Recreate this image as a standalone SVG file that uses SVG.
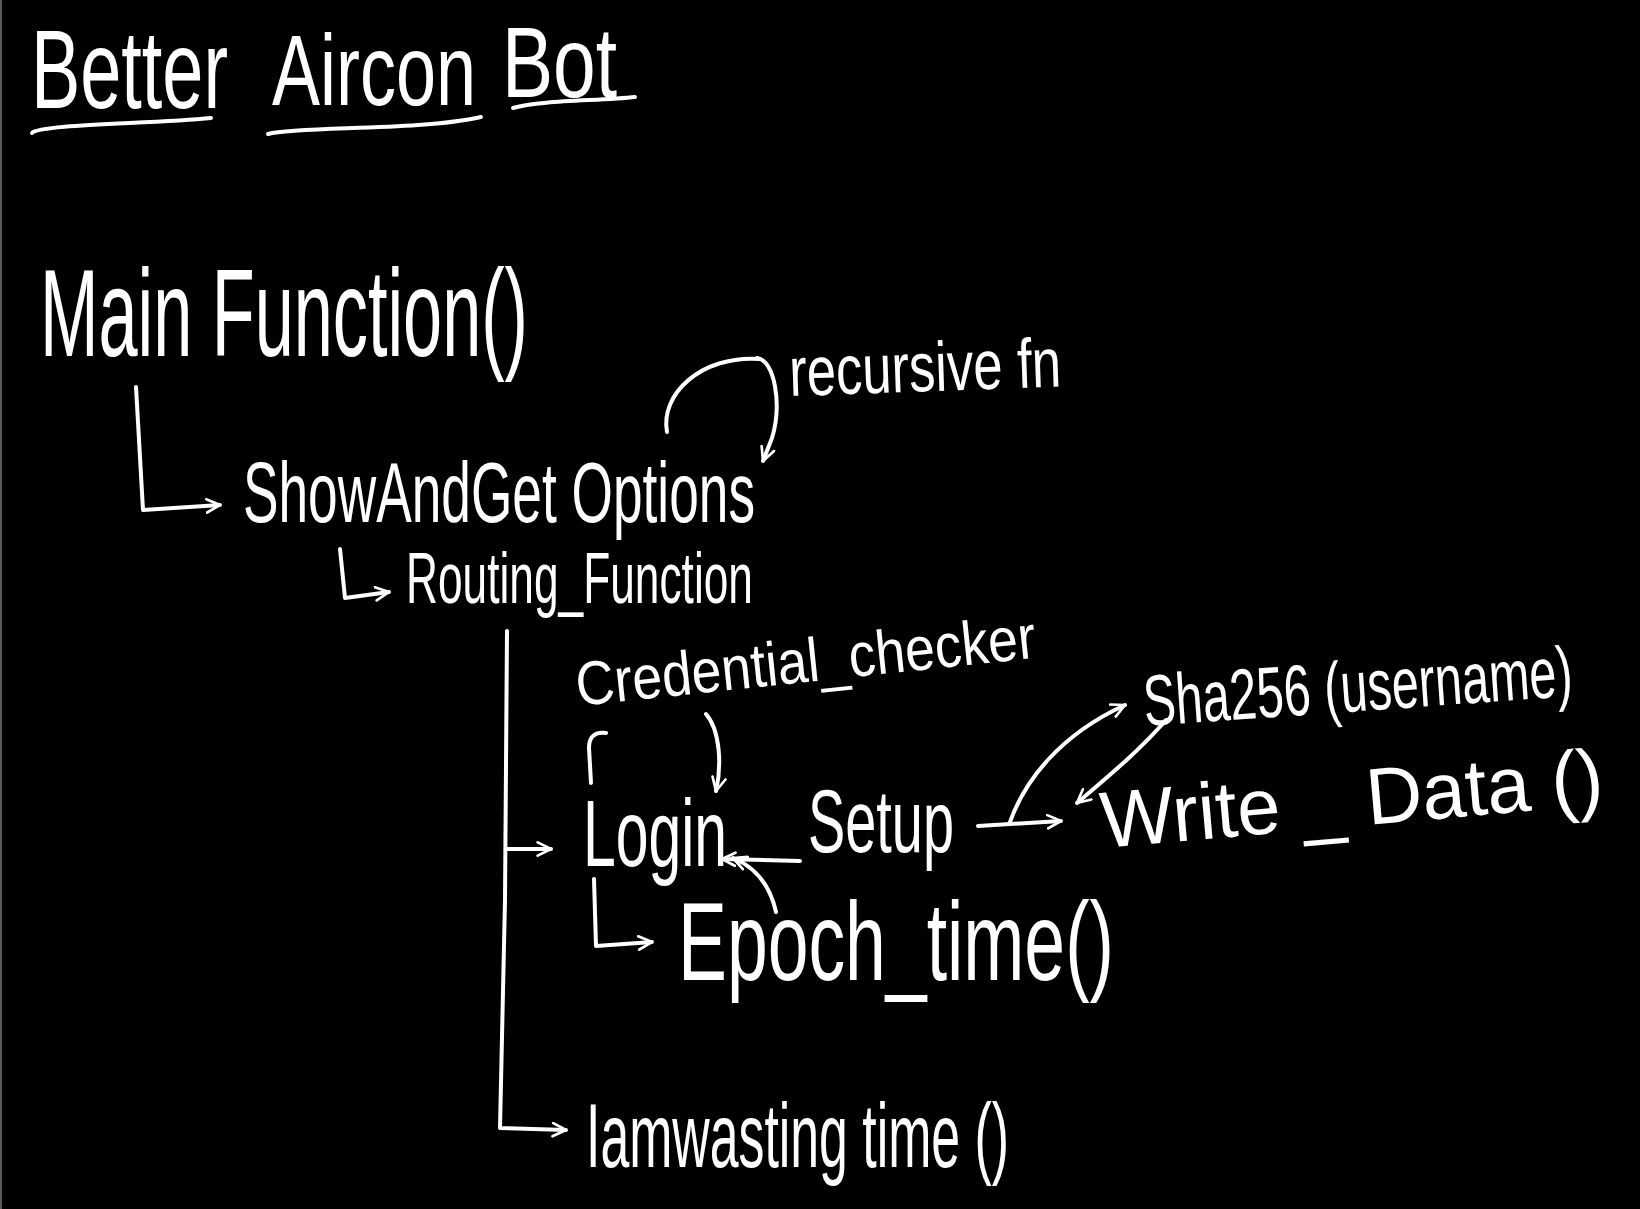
<svg xmlns="http://www.w3.org/2000/svg" width="1640" height="1209" viewBox="0 0 1640 1209">
<defs>
<marker id="ah" viewBox="0 0 12 12" refX="11" refY="6" markerWidth="16" markerHeight="16" markerUnits="userSpaceOnUse" orient="auto">
<path d="M1,1 L11,6 L1,11" fill="none" stroke="#ffffff" stroke-width="2" stroke-linecap="round" stroke-linejoin="round"/>
</marker>
</defs>
<style>
text{font-family:"Liberation Sans",Arial,sans-serif;fill:#ffffff;}
.ln{fill:none;stroke:#ffffff;stroke-width:4;stroke-linecap:round;stroke-linejoin:round;}
</style>
<rect x="0" y="0" width="1640" height="1209" fill="#000000"/>
<rect x="0" y="0" width="2" height="1209" fill="#5a5a5a"/>

<g id="title">
<text transform="translate(31 108) scale(0.659 1)" font-size="112" textLength="299" lengthAdjust="spacingAndGlyphs">Better</text>
<text transform="translate(272 105) scale(0.72 1)" font-size="100" textLength="283.3" lengthAdjust="spacingAndGlyphs">Aircon</text>
<text transform="translate(502 97) scale(0.767 1)" font-size="100" textLength="150" lengthAdjust="spacingAndGlyphs">Bot</text>
<path class="ln" d="M32,133 C40,124 150,124 211,118"/>
<path class="ln" d="M268,134 C300,126 420,131 481,117"/>
<path class="ln" d="M513,108 C540,100 600,101 635,97"/>
</g>

<g id="node-main"><text transform="translate(40 356) scale(0.562 1)" font-size="125" textLength="868.3" lengthAdjust="spacingAndGlyphs">Main Function()</text></g>
<g id="node-show"><text transform="translate(243 522) scale(0.605 1)" font-size="86" textLength="846.3" lengthAdjust="spacingAndGlyphs">ShowAndGet Options</text></g>
<g id="node-recursive"><text transform="translate(790 396) rotate(-2) scale(0.752 1)" font-size="70" textLength="361.7" lengthAdjust="spacingAndGlyphs">recursive fn</text></g>
<g id="node-routing"><text transform="translate(406 603) scale(0.59 1)" font-size="73" textLength="588.1" lengthAdjust="spacingAndGlyphs">Routing_Function</text></g>
<g id="node-credential"><text transform="translate(578 706) rotate(-6) scale(0.865 1)" font-size="62" textLength="534.1" lengthAdjust="spacingAndGlyphs">Credential_checker</text></g>
<g id="node-login"><text transform="translate(583 866) scale(0.62 1)" font-size="95" textLength="232.3" lengthAdjust="spacingAndGlyphs">Login</text></g>
<g id="node-setup"><text transform="translate(808 852) scale(0.635 1)" font-size="88" textLength="229.9" lengthAdjust="spacingAndGlyphs">Setup</text></g>
<g id="node-epoch"><text transform="translate(678 980) scale(0.655 1)" font-size="112" textLength="665.6" lengthAdjust="spacingAndGlyphs">Epoch_time()</text></g>
<g id="node-sha"><text transform="translate(1145 726) rotate(-4) scale(0.64 1)" font-size="72" textLength="671.9" lengthAdjust="spacingAndGlyphs">Sha256 (username)</text></g>
<g id="node-write"><text transform="translate(1103 848) rotate(-5) scale(0.9 1)" font-size="80" textLength="560" lengthAdjust="spacingAndGlyphs">Write _ Data ()</text></g>
<g id="node-waste"><text transform="translate(586 1167) scale(0.577 1)" font-size="90" textLength="733.1" lengthAdjust="spacingAndGlyphs">Iamwasting time ()</text></g>

<g id="connectors">
<path class="ln" d="M136,387 L143,510 L220,505" marker-end="url(#ah)"/>
<path class="ln" d="M340,549 L345,598 L389,592" marker-end="url(#ah)"/>
<path class="ln" d="M667,432 C660,395 700,355 760,359"/>
<path class="ln" d="M757,358 C775,360 782,405 772,438 L763,461" marker-end="url(#ah)"/>
<path class="ln" d="M507,631 L505,900 L500,1128 L566,1130" marker-end="url(#ah)"/>
<path class="ln" d="M506,849 L551,849" marker-end="url(#ah)"/>
<path class="ln" d="M591,783 L589,748 Q589,731 606,733"/>
<path class="ln" d="M706,714 C720,730 722,765 716,791" marker-end="url(#ah)"/>
<path class="ln" d="M800,861 L722,859" marker-end="url(#ah)"/>
<path class="ln" d="M776,912 C770,885 755,867 733,858" marker-end="url(#ah)"/>
<path class="ln" d="M594,879 L596,946 L652,942" marker-end="url(#ah)"/>
<path class="ln" d="M978,826 L1061,821" marker-end="url(#ah)"/>
<path class="ln" d="M1010,822 C1025,780 1060,735 1125,705" marker-end="url(#ah)"/>
<path class="ln" d="M1166,720 C1140,750 1110,775 1077,803" marker-end="url(#ah)"/>
</g>
</svg>
